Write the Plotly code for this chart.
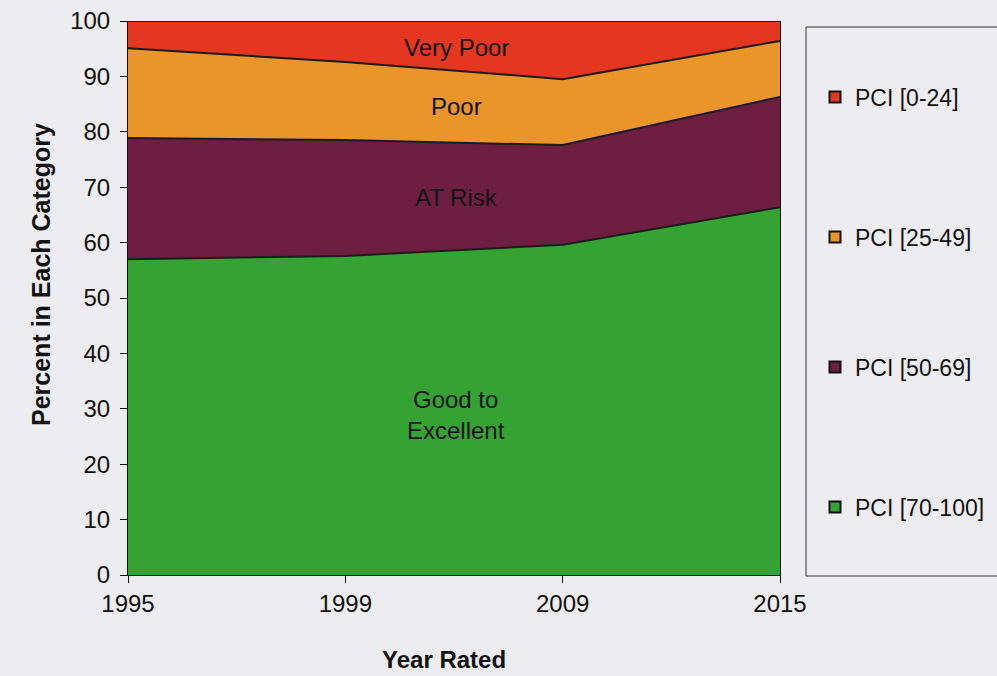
import plotly.graph_objects as go

years = ["1995", "1999", "2009", "2015"]
good = [57.0, 57.6, 59.6, 66.4]
at_risk = [21.9, 20.9, 18.0, 19.9]
poor = [16.2, 14.1, 11.9, 10.1]
very_poor = [4.9, 7.4, 10.5, 3.6]

series_names = ["PCI [70-100]", "PCI [50-69]", "PCI [25-49]", "PCI [0-24]"]
series_vals = [good, at_risk, poor, very_poor]
series_colors = ["#35A333", "#6E1E40", "#E9952A", "#E5361F"]

area_labels = ["Very Poor", "Poor", "AT Risk", "Good to<br>Excellent"]
label_y = [95.3, 84.5, 68.1, 28.9]

BG = "#EDECF0"
FONT = "Liberation Sans, Arial, sans-serif"
W, H = 997, 676
L, R, T, B = 128, 780, 21, 575
legend_rows = [97, 237, 367, 507]  # pixel centers, top to bottom


def px(x):
    return (x - L) / (R - L)


def py(y):
    return (B - y) / (B - T)


fig = go.Figure()
for name, vals, col in zip(series_names, series_vals, series_colors):
    fig.add_trace(go.Scatter(
        x=years, y=vals, name=name, mode="lines",
        stackgroup="one", fillcolor=col,
        line=dict(color="#1b1b1b", width=2),
        showlegend=False, hoverinfo="x+y+name",
    ))

# legend entries (square swatches), one legend per row, top to bottom
legend_ids = ["legend", "legend2", "legend3", "legend4"]
for lid, name, col in zip(legend_ids, series_names[::-1], series_colors[::-1]):
    fig.add_trace(go.Scatter(
        x=[None], y=[None], mode="markers", name=name, legend=lid,
        marker=dict(symbol="square", size=11, color=col, line=dict(color="#111", width=2)),
    ))

for txt, yv in zip(area_labels, label_y):
    fig.add_annotation(x=1.51, y=yv, xref="x", yref="y", text=txt,
                       showarrow=False, font=dict(size=24, color="#111", family=FONT))

fig.add_annotation(x=px(25), y=py(275), xref="paper", yref="paper",
                   text="<b>Percent in Each Category</b>",
                   showarrow=False, textangle=-90, font=dict(size=25, color="#111", family=FONT))
fig.add_annotation(x=px(444), y=py(659), xref="paper", yref="paper",
                   text="<b>Year Rated</b>", yanchor="middle",
                   showarrow=False, font=dict(size=24, color="#111", family=FONT))

# legend frame
fig.add_shape(type="rect", xref="paper", yref="paper",
              x0=px(806), x1=px(1010), y0=py(576), y1=py(27),
              line=dict(color="#333", width=1), fillcolor="rgba(0,0,0,0)", layer="below")

legend_style = dict(xref="container", yref="container", xanchor="left", yanchor="middle",
                    bgcolor="rgba(0,0,0,0)", font=dict(size=23, family=FONT, color="#111"),
                    itemwidth=30)
legends = {}
for lid, yc in zip(legend_ids, legend_rows):
    legends[lid] = dict(legend_style, x=815 / W, y=1 - yc / H)

fig.update_layout(
    width=W, height=H,
    margin=dict(l=L, r=W - R, t=T, b=H - B, autoexpand=False),
    paper_bgcolor=BG, plot_bgcolor=BG,
    font=dict(family=FONT, size=24, color="#111"),
    showlegend=True,
    xaxis=dict(type="category", range=[0, 3], showgrid=False, zeroline=False,
               showline=True, linecolor="#111", linewidth=1, automargin=False,
               ticks="outside", ticklen=7, tickcolor="#111"),
    yaxis=dict(range=[0, 100], dtick=10, showgrid=False, zeroline=False,
               showline=True, linecolor="#111", linewidth=1, mirror=True, automargin=False,
               ticks="outside", ticklen=7, tickcolor="#111", ticklabelstandoff=5),
    **legends,
)

fig.write_html("out.html", config={"displayModeBar": False},
               post_script="document.body.style.margin='0';document.body.style.background='#EDECF0';")
